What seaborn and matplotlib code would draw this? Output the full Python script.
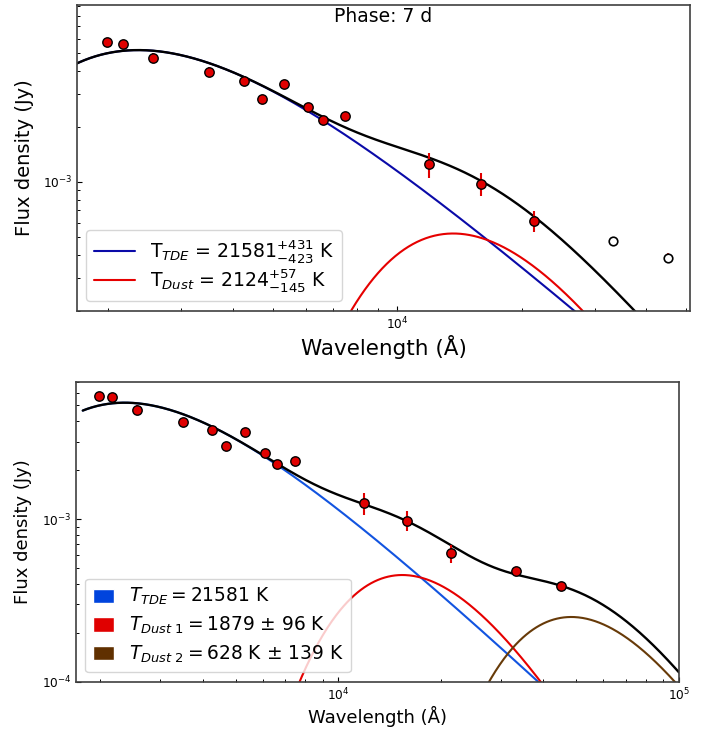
import numpy as np
import pandas as pd
import matplotlib
matplotlib.use("Agg")
import matplotlib.pyplot as plt
import seaborn as sns
from matplotlib.lines import Line2D
from matplotlib.patches import Patch
from matplotlib.ticker import NullFormatter, LogLocator

# ---------------- observed photometry (wavelength in Å, flux density in Jy)
wavelength = [1980, 2170, 2560, 3500, 4260, 4700, 5310, 6090, 6620, 7480,
              11900, 15930, 21440, 33300, 45100]
flux = [5.73e-3, 5.62e-3, 4.72e-3, 3.97e-3, 3.53e-3, 2.82e-3, 3.41e-3, 2.56e-3,
        2.18e-3, 2.29e-3, 1.25e-3, 9.8e-4, 6.15e-4, 4.81e-4, 3.88e-4]
flux_err = [3.0e-4, 2.8e-4, 2.9e-4, 2.2e-4, 1.3e-4, 1.2e-4, 1.0e-4, 8e-5,
            7e-5, 6e-5, 1.95e-4, 1.4e-4, 8e-5, 2.3e-5, 2.3e-5]
in_fit_top = [True] * 13 + [False] * 2

# ---------------- blackbody model parameters
T_tde = 21581          # K
T_dust_top = 2124      # K
T_dust1 = 1879         # K
T_dust2 = 600          # K (curve as drawn)
peak_tde = 5.2e-3      # Jy, peak of TDE component
peak_dust_top = 5.25e-4
peak_dust1 = 4.53e-4
peak_dust2 = 2.50e-4
beta_tde = 0
beta_dust = 2

top_labels = [r"T$_{TDE}$ = $21581^{+431}_{-423}$ K",
              r"T$_{Dust}$ = $2124^{+57}_{-145}$ K"]
bottom_labels = [r"$T_{TDE} = 21581$ K",
                 r"$T_{Dust\ 1} = 1879$ ± 96 K",
                 r"$T_{Dust\ 2} = 628$ K ± 139 K"]
phase_text = "Phase: 7 d"

C2 = 1.4388e8  # hc/k in Å K


def bb_jy(lam, T, peak, beta):
    x = C2 / (lam * T)
    shape = x ** (3 + beta) / np.expm1(x)
    xs = np.linspace(0.05, 40, 40000)
    norm = np.max(xs ** (3 + beta) / np.expm1(xs))
    return peak * shape / norm


obs = pd.DataFrame({"wl": wavelength, "flux": flux, "err": flux_err,
                    "fit": in_fit_top})

sns.set_style("ticks")
plt.rcParams["font.family"] = ["DejaVu Sans"]
plt.rcParams["mathtext.fontset"] = "dejavusans"
plt.rcParams["text.color"] = "black"
plt.rcParams["axes.labelcolor"] = "black"

fig = plt.figure(figsize=(7.08, 7.29), dpi=100)
ax1 = fig.add_axes([0.1088, 0.5738, 0.8658, 0.4189])
ax2 = fig.add_axes([0.1073, 0.0649, 0.8517, 0.4115])

# colours
blue_top = "#0a0aa8"
red_c = "#e60000"
blue_bot = "#1254e0"
brown = "#673a08"
pt_red = "#e00000"


def style_axes(ax):
    ax.set_xscale("log")
    ax.set_yscale("log")
    for s in ax.spines.values():
        s.set_color("0.25")
        s.set_linewidth(1.2)
    ax.tick_params(which="both", direction="in", labelsize=8.7, colors="black")
    ax.tick_params(which="major", length=3.5, width=0.8)
    ax.tick_params(which="minor", length=2.0, width=0.7)
    ax.xaxis.set_minor_formatter(NullFormatter())
    ax.yaxis.set_minor_formatter(NullFormatter())
    ax.yaxis.set_minor_locator(LogLocator(base=10, subs=np.arange(2, 10)))
    ax.xaxis.set_minor_locator(LogLocator(base=10, subs=np.arange(2, 10)))


# ---------------- top panel
lam1 = np.geomspace(1600, 6.0e4, 600)
tde1 = bb_jy(lam1, T_tde, peak_tde, beta_tde)
dust_t = bb_jy(lam1, T_dust_top, peak_dust_top, beta_dust)
sns.lineplot(x=lam1, y=tde1, ax=ax1, color=blue_top, lw=1.5, estimator=None, sort=False, zorder=2)
sns.lineplot(x=lam1, y=dust_t, ax=ax1, color=red_c, lw=1.5, estimator=None, sort=False, zorder=2)
sns.lineplot(x=lam1, y=tde1 + dust_t, ax=ax1, color="black", lw=1.7, estimator=None, sort=False, zorder=2.5)

fit = obs[obs["fit"]]
nofit = obs[~obs["fit"]]
ax1.errorbar(fit["wl"], fit["flux"], yerr=fit["err"], fmt="none", ecolor=pt_red,
             elinewidth=1.5, capsize=0, zorder=3)
ax1.errorbar(nofit["wl"], nofit["flux"], yerr=nofit["err"], fmt="none", ecolor=pt_red,
             elinewidth=1.2, capsize=0, zorder=3)
sns.scatterplot(data=fit, x="wl", y="flux", ax=ax1, color=pt_red, edgecolor="black",
                linewidth=1.0, s=46, zorder=4, legend=False)
sns.scatterplot(data=nofit, x="wl", y="flux", ax=ax1, color="white", edgecolor="black",
                linewidth=1.2, s=38, zorder=4, legend=False)

style_axes(ax1)
ax1.set_xlim(1680, 51000)
ax1.set_ylim(2.0e-4, 9.1e-3)
ax1.set_xlabel("Wavelength (Å)", fontsize=15.5, labelpad=2)
ax1.set_ylabel("Flux density (Jy)", fontsize=14, labelpad=6.5)
ax1.text(0.5, 0.962, phase_text, transform=ax1.transAxes, ha="center", va="center",
         fontsize=13.5, color="black")
h1 = [Line2D([0], [0], color=blue_top, lw=1.5), Line2D([0], [0], color=red_c, lw=1.5)]
ax1.legend(h1, top_labels, loc="lower left", fontsize=13.6, handlelength=2.15,
           labelspacing=0.1, borderaxespad=0.5)

# ---------------- bottom panel
lam2 = np.geomspace(1780, 1.0e5, 700)
tde2 = bb_jy(lam2, T_tde, peak_tde, beta_tde)
d1 = bb_jy(lam2, T_dust1, peak_dust1, beta_dust)
d2 = bb_jy(lam2, T_dust2, peak_dust2, beta_dust)
sns.lineplot(x=lam2, y=tde2, ax=ax2, color=blue_bot, lw=1.5, estimator=None, sort=False, zorder=2)
sns.lineplot(x=lam2, y=d1, ax=ax2, color=red_c, lw=1.5, estimator=None, sort=False, zorder=2)
sns.lineplot(x=lam2, y=d2, ax=ax2, color=brown, lw=1.5, estimator=None, sort=False, zorder=2)
sns.lineplot(x=lam2, y=tde2 + d1 + d2, ax=ax2, color="black", lw=1.7, estimator=None,
             sort=False, zorder=2.5)
ax2.errorbar(obs["wl"], obs["flux"], yerr=obs["err"], fmt="none", ecolor=pt_red,
             elinewidth=1.5, capsize=0, zorder=3)
sns.scatterplot(data=obs, x="wl", y="flux", ax=ax2, color=pt_red, edgecolor="black",
                linewidth=1.0, s=46, zorder=4, legend=False)

style_axes(ax2)
ax2.set_xlim(1700, 1.0e5)
ax2.set_ylim(1.0e-4, 7.0e-3)
ax2.set_xlabel("Wavelength (Å)", fontsize=13, labelpad=2)
ax2.set_ylabel("Flux density (Jy)", fontsize=13, labelpad=6.5)
h2 = [Patch(facecolor="#0044dd"), Patch(facecolor="#e00000"), Patch(facecolor="#603000")]
ax2.legend(h2, bottom_labels, loc="lower left", fontsize=13.4, handlelength=1.15,
           handleheight=0.8, labelspacing=0.4, borderaxespad=0.5)

fig.savefig("out.png", dpi=100)
